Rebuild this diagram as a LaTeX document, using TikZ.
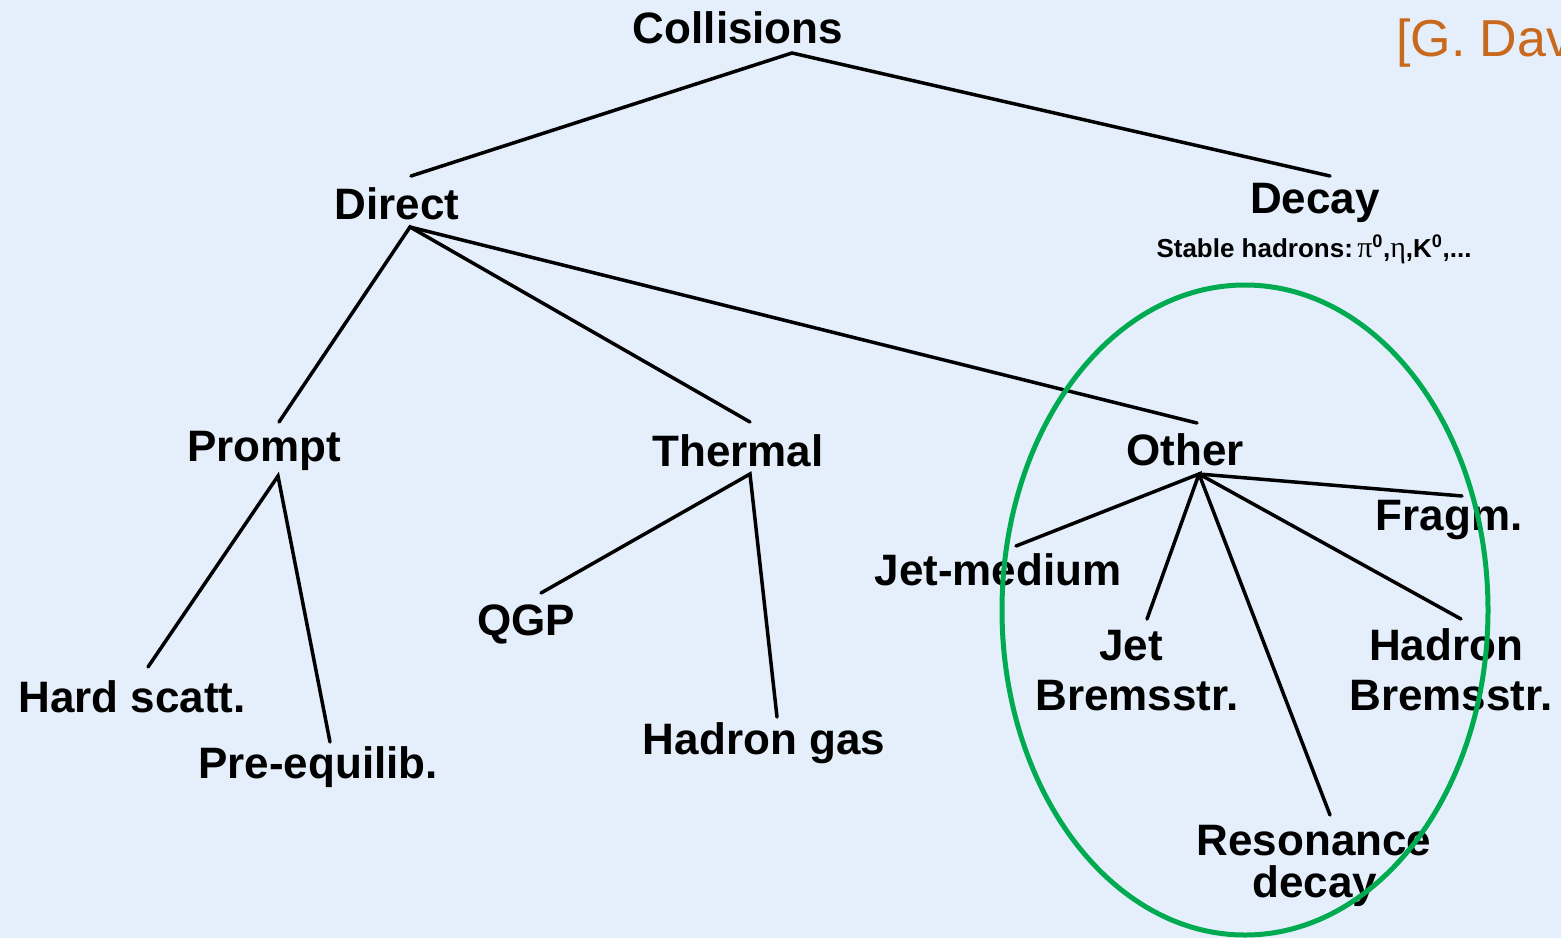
\documentclass[tikz,border=0pt]{standalone}
\usepackage{fontspec}
\setmainfont{Liberation Sans}
\newfontfamily\grk{Liberation Serif}
\definecolor{bgblue}{RGB}{229,239,251}
\definecolor{refgreen}{RGB}{0,170,80}
\definecolor{refor}{RGB}{200,105,30}
\begin{document}
\begin{tikzpicture}[x=1pt,y=-1pt,
  lbl/.style={anchor=base,inner sep=0pt,font=\fontsize{44}{50}\selectfont\bfseries},
  small/.style={anchor=base,inner sep=0pt,font=\fontsize{26}{30}\selectfont\bfseries},
  edge/.style={line width=3.5pt,line cap=round}]
\useasboundingbox (0,0) rectangle (1561,938);
\fill[bgblue] (0,0) rectangle (1561,938);
\clip (0,0) rectangle (1561,938);

% labels
\node[lbl] (coll) at (738,43) {Collisions};
\node[lbl] (direct) at (397,219) {Direct};
\node[lbl] (decay) at (1315,213) {Decay};
\node[small] (stable) at (1314,257) {Stable hadrons:\,{\grk\mdseries\fontsize{30}{30}\selectfont π}\textsuperscript{0},{\grk\mdseries\fontsize{30}{30}\selectfont η},K\textsuperscript{0},...};
\node[lbl] (prompt) at (264,461) {Prompt};
\node[lbl] (thermal) at (738,466) {Thermal};
\node[lbl] (other) at (1185,465) {Other};
\node[lbl] (hard) at (132,712) {Hard scatt.};
\node[lbl] (pre) at (318,778) {Pre-equilib.};
\node[lbl] (qgp) at (526,635) {QGP};
\node[lbl] (hgas) at (764,754) {Hadron gas};
\node[lbl] (jetmed) at (998,585) {Jet-medium};
\node[lbl] (fragm) at (1449,530) {Fragm.};
\node[lbl] (jet1) at (1131,660) {Jet};
\node[lbl] (jet2) at (1137,710) {Bremsstr.};
\node[lbl] (had1) at (1446,660) {Hadron};
\node[lbl] (had2) at (1451,710) {Bremsstr.};
\node[lbl] (res1) at (1314,855) {Resonance};
\node[lbl] (res2) at (1315,897) {decay};
\node[anchor=base west,inner sep=0pt,text=refor,font=\fontsize{52}{58}\selectfont] (cite) at (1396,56) {[G. Dav};

% connection points
\coordinate (coll-b) at (792,53);
\coordinate (direct-t) at (411,176);
\coordinate (decay-t) at (1330,176);
\coordinate (direct-b) at (410,227);
\coordinate (prompt-t) at (279,422);
\coordinate (thermal-t) at (750,422);
\coordinate (other-t) at (1197,423);
\coordinate (prompt-b) at (278,476);
\coordinate (hard-t) at (148,667);
\coordinate (pre-t) at (330,742);
\coordinate (thermal-b) at (750,474);
\coordinate (qgp-t) at (541,593);
\coordinate (hgas-t) at (777,717);
\coordinate (other-b) at (1199,474);
\coordinate (jetmed-t) at (1016,546);
\coordinate (jet-t) at (1147,619);
\coordinate (res-t) at (1330,815);
\coordinate (had-t) at (1461,619);
\coordinate (fragm-t) at (1462,496);

% connectors
\draw[edge] (direct-t) -- (coll-b) -- (decay-t);
\draw[edge] (prompt-t) -- (direct-b) -- (thermal-t);
\draw[edge] (direct-b) -- (other-t);
\draw[edge] (hard-t) -- (prompt-b) -- (pre-t);
\draw[edge] (qgp-t) -- (thermal-b) -- (hgas-t);
\draw[edge] (jetmed-t) -- (other-b) -- (jet-t);
\draw[edge] (other-b) -- (res-t);
\draw[edge] (other-b) -- (had-t);
\draw[edge] (other-b) -- (fragm-t);

% highlight
\draw[refgreen,line width=5pt] (1245,610) ellipse [x radius=243pt, y radius=325pt];
\end{tikzpicture}
\end{document}
